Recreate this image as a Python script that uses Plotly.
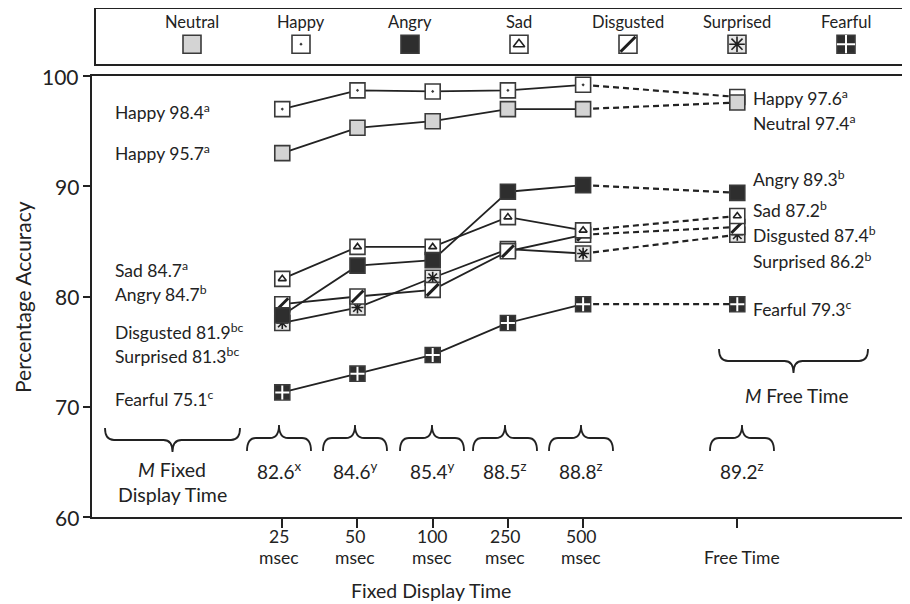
import plotly.graph_objects as go

# ---------------- data ----------------
emotions = ["Neutral", "Happy", "Angry", "Sad", "Disgusted", "Surprised", "Fearful"]
time_top = ["25", "50", "100", "250", "500", ""]
time_bottom = ["msec", "msec", "msec", "msec", "msec", "Free Time"]

neutral_fixed = [93.0, 95.3, 95.9, 97.0, 97.0]
happy_fixed = [97.0, 98.7, 98.6, 98.7, 99.2]
angry_fixed = [78.3, 82.8, 83.3, 89.5, 90.1]
sad_fixed = [81.6, 84.5, 84.5, 87.2, 86.0]
disgusted_fixed = [79.3, 80.0, 80.6, 84.1, 85.6]
surprised_fixed = [77.6, 79.0, 81.7, 84.3, 83.9]
fearful_fixed = [71.3, 73.0, 74.7, 77.6, 79.3]

neutral_free = 97.6
happy_free = 98.1
angry_free = 89.4
sad_free = 87.3
disgusted_free = 86.3
surprised_free = 85.6
fearful_free = 79.3

fixed_values = [neutral_fixed, happy_fixed, angry_fixed, sad_fixed,
                disgusted_fixed, surprised_fixed, fearful_fixed]
free_values = [neutral_free, happy_free, angry_free, sad_free,
               disgusted_free, surprised_free, fearful_free]

left_notes = ["Happy 98.4<sup>a</sup>", "Happy 95.7<sup>a</sup>", "Sad 84.7<sup>a</sup>",
              "Angry 84.7<sup>b</sup>", "Disgusted 81.9<sup>bc</sup>",
              "Surprised 81.3<sup>bc</sup>", "Fearful 75.1<sup>c</sup>"]
right_notes = ["Happy 97.6<sup>a</sup>", "Neutral 97.4<sup>a</sup>", "Angry 89.3<sup>b</sup>",
               "Sad 87.2<sup>b</sup>", "Disgusted 87.4<sup>b</sup>",
               "Surprised 86.2<sup>b</sup>", "Fearful 79.3<sup>c</sup>"]
time_means = ["82.6<sup>x</sup>", "84.6<sup>y</sup>", "85.4<sup>y</sup>",
              "88.5<sup>z</sup>", "88.8<sup>z</sup>", "89.2<sup>z</sup>"]

# ---------------- layout helpers (reference pixels) ----------------
OFF = 8                         # default page margin of the html body
SW, SH = 910, 604               # screen
L, R, T, B = 92, 905, 9, 517    # plot frame in screen pixels
X_POS = [0, 1, 2, 3, 4, 6.05]   # axis positions of the time conditions
X_RANGE = [-2.53, 8.28]
FONT = "Lato, 'Open Sans', sans-serif"
INK = "#222222"


def px(x):
    return (x - L) / (R - L)


def py(y):
    return (B - y) / (B - T)


styles = {
    "Neutral": dict(symbol="square", fill="#d4d4d4", over=None),
    "Happy": dict(symbol="square-dot", fill="#ffffff", over=None),
    "Angry": dict(symbol="square", fill="#2e2e2e", over=None),
    "Sad": dict(symbol="square", fill="#ffffff", over=("triangle-up-open", INK, 7, 1.6)),
    "Disgusted": dict(symbol="square", fill="#ffffff", over=("line-ne", "#1e1e1e", 12, 3)),
    "Surprised": dict(symbol="square", fill="#e6e6e6", over=("asterisk-open", "#1e1e1e", 10, 1.6)),
    "Fearful": dict(symbol="square", fill="#2e2e2e", over=("cross-thin-open", "#ffffff", 10, 2)),
}

fig = go.Figure()

MSIZE = 15
for name, fixed, free in zip(emotions, fixed_values, free_values):
    fig.add_trace(go.Scatter(x=[X_POS[4], X_POS[5]], y=[fixed[-1], free], mode="lines",
                             line=dict(color=INK, width=2.2, dash="6px,4px"),
                             showlegend=False, hoverinfo="skip"))
    fig.add_trace(go.Scatter(x=X_POS[:5], y=fixed, mode="lines",
                             line=dict(color=INK, width=1.8),
                             showlegend=False, hoverinfo="skip"))

for name, fixed, free in zip(emotions[::-1], fixed_values[::-1], free_values[::-1]):
    st = styles[name]
    xs = X_POS
    ys = list(fixed) + [free]
    fig.add_trace(go.Scatter(x=xs, y=ys, mode="markers", name=name,
                             marker=dict(symbol=st["symbol"], size=MSIZE, color=st["fill"],
                                         line=dict(color="#3a3a3a", width=1.6)),
                             showlegend=False))
    if st["over"]:
        sym, col, sz, lw = st["over"]
        fig.add_trace(go.Scatter(x=xs, y=ys, mode="markers",
                                 marker=dict(symbol=sym, size=sz, color=col,
                                             line=dict(color=col, width=lw)),
                                 showlegend=False, hoverinfo="skip"))

# ---------------- legend box (second axes) ----------------
BOX_L, BOX_R, BOX_T, BOX_B = 96, 905, 9, 64
leg_px = [192 + 109 * i for i in range(len(emotions))]
leg_x = [(p - BOX_L) / (BOX_R - BOX_L) for p in leg_px]
for name, lx in zip(emotions, leg_x):
    st = styles[name]
    fig.add_trace(go.Scatter(x=[lx], y=[0.36], xaxis="x2", yaxis="y2", mode="markers",
                             marker=dict(symbol=st["symbol"], size=18, color=st["fill"],
                                         line=dict(color="#3a3a3a", width=1.6)),
                             showlegend=False, hoverinfo="skip"))
    if st["over"]:
        sym, col, sz, lw = st["over"]
        fig.add_trace(go.Scatter(x=[lx], y=[0.36], xaxis="x2", yaxis="y2", mode="markers",
                                 marker=dict(symbol=sym, size=sz + 3, color=col,
                                             line=dict(color=col, width=lw)),
                                 showlegend=False, hoverinfo="skip"))

annotations = []
for name, lx in zip(emotions, leg_x):
    annotations.append(dict(x=lx, y=0.77, xref="x2", yref="y2", text=name, showarrow=False,
                            font=dict(size=16.5, color=INK), xanchor="center", yanchor="middle"))


def note(text, x, y, size, anchor="left", angle=0):
    return dict(x=px(x), y=py(y), xref="paper", yref="paper", text=text, showarrow=False,
                xanchor=anchor, yanchor="middle", textangle=angle,
                font=dict(size=size, color=INK))


left_y = [112, 152, 269, 293, 331, 355, 398]
for t, yy in zip(left_notes, left_y):
    annotations.append(note(t, 113, yy, 17.5))
right_y = [97, 122, 179, 210, 234, 260, 308]
for t, yy in zip(right_notes, right_y):
    annotations.append(note(t, 751, yy, 17.5))

tick_px = [279, 355, 432, 505, 581, 742]
for t, xx in zip(time_means, tick_px):
    annotations.append(note(t, xx, 471, 19, "center"))
for t1, t2, xx in zip(time_top, time_bottom, tick_px):
    if t1:
        annotations.append(note(t1, xx, 536, 17.5, "center"))
    annotations.append(note(t2, xx, 557, 17.5, "center"))
annotations.append(note("<i>M</i> Fixed", 172, 470, 19.5, "center"))
annotations.append(note("Display Time", 172, 494, 19.5, "center"))
annotations.append(note("<i>M</i> Free Time", 796, 395, 19, "center"))
annotations.append(note("Percentage Accuracy", 22, 297, 21, "center", -90))
annotations.append(note("Fixed Display Time", 431, 590, 19.5, "center"))
for v, yy in zip(["100", "90", "80", "70", "60"], [76, 186, 296, 406, 517]):
    annotations.append(note(v, 81, yy, 21, "right"))


def brace(x0, x1, ye, ym, yt, r=9):
    xm = (x0 + x1) / 2
    pts = [("M", [(x0, ye)]),
           ("Q", [(x0, ym), (x0 + r, ym)]),
           ("L", [(xm - r, ym)]),
           ("Q", [(xm, ym), (xm, yt)]),
           ("Q", [(xm, ym), (xm + r, ym)]),
           ("L", [(x1 - r, ym)]),
           ("Q", [(x1, ym), (x1, ye)])]
    s = ""
    for cmd, ps in pts:
        s += cmd + " " + " ".join(f"{px(a):.5f},{py(b):.5f}" for a, b in ps) + " "
    return dict(type="path", path=s.strip(), xref="paper", yref="paper",
                line=dict(color=INK, width=1.8))


shapes = [brace(105, 240, 428, 440, 452)]
for xx in tick_px:
    shapes.append(brace(xx - 32, xx + 32, 451, 438, 425))
shapes.append(brace(719, 868, 349, 361, 373))

fig.update_layout(
    width=SW - OFF, height=SH - OFF,
    margin=dict(l=L - OFF, r=SW - R, t=T - OFF, b=SH - B, autoexpand=False),
    paper_bgcolor="white", plot_bgcolor="white",
    font=dict(family=FONT, color=INK),
    showlegend=False,
    annotations=annotations,
    shapes=shapes,
    xaxis=dict(range=X_RANGE, tickvals=X_POS, showticklabels=False, showgrid=False,
               zeroline=False, showline=True, linecolor=INK, linewidth=2, mirror=True,
               ticks="outside", ticklen=9, tickwidth=1.5, tickcolor=INK, domain=[0, 1]),
    xaxis3=dict(range=X_RANGE, tickvals=X_POS, overlaying="x", anchor="y",
                showticklabels=False, ticks="inside", ticklen=10, tickwidth=1.5,
                tickcolor=INK, showgrid=False, zeroline=False, showline=False),
    yaxis=dict(range=[60, 100], tickvals=[60, 70, 80, 90, 100], showticklabels=False,
               showgrid=False, zeroline=False, showline=True, linecolor=INK, linewidth=2,
               ticks="outside", ticklen=7, tickwidth=1.5, tickcolor=INK,
               domain=[0, py(76)]),
    xaxis2=dict(domain=[px(BOX_L), px(BOX_R)], range=[0, 1], anchor="y2",
                showticklabels=False, showgrid=False, zeroline=False, ticks="",
                showline=True, mirror=True, linecolor=INK, linewidth=2),
    yaxis2=dict(domain=[py(BOX_B), py(BOX_T)], range=[0, 1], anchor="x2",
                showticklabels=False, showgrid=False, zeroline=False, ticks="",
                showline=True, mirror=True, linecolor=INK, linewidth=2),
)

fig.write_html("out.html")
